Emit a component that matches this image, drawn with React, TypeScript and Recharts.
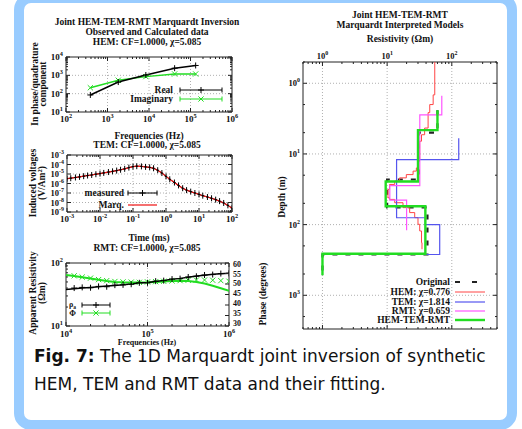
import React from 'react';
import { ComposedChart, Line, XAxis, YAxis, ReferenceLine, ReferenceArea } from 'recharts';

const W = 522;
const H = 429;
const SERIF = '"Liberation Serif", "Times New Roman", serif';
const INK = '#222';
const GRID = '#b0b0b0';
const GREEN = '#22dd22';
const AX = 24; // room given to each axis inside the margins

// ---- HEM: observed / calculated ----
const hemFreq = [386, 1817, 8390, 41460, 133200];
const hemReal = [85, 430, 1040, 2450, 3450];
const hemImag = [210, 540, 850, 1190, 1190];

// ---- TEM transient ----
const temTime = [0.001, 0.0013, 0.0018, 0.0024, 0.0032, 0.0042, 0.0056, 0.0075, 0.01, 0.013, 0.018, 0.024, 0.032, 0.042, 0.056, 0.075,
  0.1, 0.13, 0.18, 0.24, 0.32, 0.42, 0.56, 0.75, 1.0, 1.3, 1.8, 2.4, 3.2, 4.2, 5.6, 7.5, 10, 13, 18, 24, 32, 42, 56, 75, 100];
const temMeasured = [3.2e-6, 3.6e-6, 4.3e-6, 5.0e-6, 5.9e-6, 6.9e-6, 7.9e-6, 9.5e-6, 1.1e-5, 1.3e-5, 1.6e-5, 1.9e-5, 2.3e-5, 2.8e-5, 3.5e-5, 4.7e-5,
  6.0e-5, 6.6e-5, 6.3e-5, 5.6e-5, 5.0e-5, 4.0e-5, 2.5e-5, 1.26e-5, 5.6e-6, 2.8e-6, 1.26e-6, 6.3e-7, 3.2e-7, 2.0e-7, 1.4e-7, 1.0e-7, 7.1e-8, 5.2e-8,
  3.8e-8, 2.8e-8, 2.0e-8, 1.4e-8, 8.9e-9, 5.0e-9, 2.5e-9];
const temMarq = [3.2e-6, 3.6e-6, 4.3e-6, 5.0e-6, 5.9e-6, 6.9e-6, 7.9e-6, 9.5e-6, 1.1e-5, 1.3e-5, 1.6e-5, 1.9e-5, 2.3e-5, 2.8e-5, 3.5e-5, 4.7e-5,
  6.0e-5, 6.6e-5, 6.3e-5, 5.6e-5, 5.0e-5, 4.0e-5, 2.5e-5, 1.26e-5, 5.6e-6, 2.8e-6, 1.26e-6, 6.3e-7, 3.2e-7, 2.0e-7, 1.4e-7, 1.0e-7, 7.1e-8, 5.2e-8,
  3.8e-8, 2.8e-8, 2.0e-8, 1.4e-8, 8.9e-9, 5.0e-9, 2.5e-9];

// ---- RMT ----
const rmtFreq = [1e4, 1.26e4, 1.58e4, 2e4, 2.51e4, 3.16e4, 3.98e4, 5.01e4, 6.31e4, 7.94e4, 1e5, 1.26e5, 1.58e5, 2e5, 2.51e5, 3.16e5, 3.98e5, 5.01e5, 6.31e5, 7.94e5, 1e6];
const rmtRhoCalc = [38, 39, 40, 41, 42, 43, 44, 45, 46.5, 48, 49, 51, 53, 55, 57, 59.5, 62, 64, 66, 67.5, 69];
const rmtRhoObs = [null, 40, 41, 40.5, 42.5, 42, 44.5, 45, 46, 48.5, 48.5, 51.5, 52.5, 55.5, 56.5, 60, 61.5, 64.5, 65.5, 68, 68.5];
const rmtPhaseCalc = [54.3, 53.8, 53.2, 52.6, 52.0, 51.4, 51.0, 50.8, 50.7, 50.7, 50.8, 51.0, 51.2, 51.4, 51.5, 51.4, 51.0, 50.2, 49.2, 48.0, 46.8];
const rmtPhaseObs = [null, 53.9, 53.3, 52.8, 52.1, 51.6, 51.2, 51.0, 50.9, 50.8, 51.0, 51.1, 51.3, 51.5, 51.6, 51.8, 51.9, 51.9, 51.8, 51.6, 51.3];

// ---- interpreted models: layer resistivity and depths [start, interfaces..., end] ----
const origRes = [60, 31, 10, 42, 1];
const origDepth = [2.4, 5, 23, 57, 265, 520];
const hemRes = [54.5, 51.5, 45.6, 43, 38, 34, 31.9, 30, 28.3, 25.2, 19.8, 15.6, 13.1, 10.9, 10.3, 10.9, 13.1, 17.6, 22.3, 26.7, 30, 31.9, 34, 34.6];
const hemDepth = [0.5, 1.46, 2.0, 2.6, 4.3, 5.35, 6.6, 12, 15.8, 17.5, 19.6, 21.8, 24.2, 27, 31.7, 41.7, 44, 49, 57.5, 67.6, 79.7, 99, 123, 180, 223];
const temRes = [128, 14, 39, 65, 40];
const temDepth = [6, 12, 80, 100, 265, 265];
const rmtRes = [70, 32, 11, 20];
const rmtDepth = [1.5, 2.8, 28, 45, 120];
const jointRes = [60, 30, 9.5, 39, 1];
const jointDepth = [2.4, 4.6, 24.5, 55, 258, 520];

// tick marks
const HEM_X_MAJOR = [1e2, 1e3, 1e4, 1e5, 1e6];
const HEM_Y_MAJOR = [1e1, 1e2, 1e3, 1e4];
const TEM_X_MAJOR = [1e-3, 1e-2, 1e-1, 1e0, 1e1, 1e2];
const TEM_Y_MAJOR = [1e-9, 1e-8, 1e-7, 1e-6, 1e-5, 1e-4, 1e-3];
const RMT_X_MAJOR = [1e4, 1e5, 1e6];
const RMT_Y_MAJOR = [10, 100];
const PHASE_TICKS = [30, 35, 40, 45, 50, 55, 60];
const MOD_X_MAJOR = [1, 10, 100];
const MOD_Y_MAJOR = [1, 10, 100, 1000];

type Box = { l: number; r: number; t: number; b: number };
const HEM_BOX: Box = { l: 66, r: 232, t: 57, b: 112 };
const TEM_BOX: Box = { l: 67, r: 232, t: 155, b: 212 };
const RMT_BOX: Box = { l: 66, r: 229, t: 263, b: 326 };
const MOD_BOX: Box = { l: 303, r: 497, t: 62, b: 329 };

// margins leave AX px for the bottom x axis and left y axis (and right / top where used)
const margin = (b: Box, rightAxis = false, topAxis = false) => ({
  left: b.l - AX,
  right: W - b.r - (rightAxis ? AX : 0),
  top: b.t - (topAxis ? AX : 0),
  bottom: H - b.b - (topAxis ? 0 : AX),
});

// minor log ticks between lo and hi
function logTicks(lo: number, hi: number, mult = [1, 2, 3, 4, 5, 6, 7, 8, 9]) {
  const out: number[] = [];
  for (let e = Math.floor(Math.log10(lo)); e <= Math.ceil(Math.log10(hi)); e++) {
    for (const m of mult) {
      const v = +(m * Math.pow(10, e)).toPrecision(6);
      if (v >= lo * 0.9999 && v <= hi * 1.0001) out.push(v);
    }
  }
  return out;
}

const isMajor = (v: number, majors: number[]) => majors.some((m) => Math.abs(v - m) <= Math.abs(m) * 1e-6);

function Pow({ x, y, v, anchor, size = 9 }: any) {
  const e = Math.round(Math.log10(v));
  return (
    <text x={x} y={y} textAnchor={anchor} fontFamily={SERIF} fontWeight="bold" fontSize={size} fill="#111">
      10<tspan dy={-size * 0.45} fontSize={size * 0.7}>{e}</tspan>
    </text>
  );
}

const bottomTick = (box: Box, majors: number[], dy = 10, size = 9) => (p: any) => {
  const x = p.x;
  const major = isMajor(p.payload.value, majors);
  const l = major ? 4 : 2;
  return (
    <g>
      <line x1={x} x2={x} y1={box.b} y2={box.b - l} stroke={INK} />
      <line x1={x} x2={x} y1={box.t} y2={box.t + l} stroke={INK} />
      {major && <Pow x={x} y={box.b + dy} v={p.payload.value} anchor="middle" size={size} />}
    </g>
  );
};

const topTick = (box: Box, majors: number[]) => (p: any) => {
  const x = p.x;
  const major = isMajor(p.payload.value, majors);
  const l = major ? 4 : 2;
  return (
    <g>
      <line x1={x} x2={x} y1={box.b} y2={box.b - l} stroke={INK} />
      <line x1={x} x2={x} y1={box.t} y2={box.t + l} stroke={INK} />
      {major && <Pow x={x} y={box.t - 3} v={p.payload.value} anchor="middle" size={8.5} />}
    </g>
  );
};

const leftTick = (box: Box, majors: number[], mirror = true, size = 9) => (p: any) => {
  const y = p.y;
  const major = isMajor(p.payload.value, majors);
  const l = major ? 4 : 2;
  return (
    <g>
      <line x1={box.l} x2={box.l + l} y1={y} y2={y} stroke={INK} />
      {mirror && <line x1={box.r} x2={box.r - l} y1={y} y2={y} stroke={INK} />}
      {major && <Pow x={box.l - 3} y={y + 3} v={p.payload.value} anchor="end" size={size} />}
    </g>
  );
};

// right-hand phase axis; labels are packed slightly tighter than the ticks, as in the source figure
const phaseTick = (box: Box) => (p: any) => {
  const cy = box.t + 1 + (p.y - box.t) * 0.94;
  return (
    <g>
      <line x1={box.r} x2={box.r - 4} y1={p.y} y2={p.y} stroke={INK} />
      <text x={box.r + 4} y={cy + 2.7} fontFamily={SERIF} fontWeight="bold" fontSize={8} fill="#111">
        {p.payload.value}
      </text>
    </g>
  );
};

// point markers
const plusDot = (color: string, sx = 3, sy = 3) => (p: any) =>
  p.cx == null || p.cy == null ? <g key={p.index} /> : (
    <path key={p.index} d={`M${p.cx - sx},${p.cy}H${p.cx + sx}M${p.cx},${p.cy - sy}V${p.cy + sy}`} stroke={color} strokeWidth={1} fill="none" />
  );
const crossDot = (color: string, s = 2.6) => (p: any) =>
  p.cx == null || p.cy == null ? <g key={p.index} /> : (
    <path key={p.index} d={`M${p.cx - s},${p.cy - s}L${p.cx + s},${p.cy + s}M${p.cx - s},${p.cy + s}L${p.cx + s},${p.cy - s}`} stroke={color} strokeWidth={1} fill="none" />
  );

function staircase(res: number[], depth: number[]) {
  const pts: { r: number; d: number }[] = [];
  res.forEach((r, i) => {
    pts.push({ r, d: depth[i] });
    pts.push({ r, d: depth[i + 1] });
  });
  return pts;
}

const hemData = hemFreq.map((f, i) => ({ f, real: hemReal[i], imag: hemImag[i] }));
const temData = temTime.map((t, i) => ({ t, meas: temMeasured[i], marq: temMarq[i] }));
const rmtData = rmtFreq.map((f, i) => ({ f, rho: rmtRhoCalc[i], rhoObs: rmtRhoObs[i], ph: rmtPhaseCalc[i], phObs: rmtPhaseObs[i] }));
const origPts = staircase(origRes, origDepth);
const hemPts = staircase(hemRes, hemDepth);
const temPts = staircase(temRes, temDepth);
const rmtPts = staircase(rmtRes, rmtDepth);
const jointPts = staircase(jointRes, jointDepth);

const layer: React.CSSProperties = { position: 'absolute', left: 0, top: 0 };
const grid = { stroke: GRID, strokeDasharray: '1 2', strokeWidth: 1 };
const noAxis = { axisLine: false, tickLine: false, interval: 0 as const, allowDataOverflow: true };

function Txt({ x, y, children, anchor = 'middle', size = 9.5, rot = false }: any) {
  return (
    <text x={x} y={y} textAnchor={anchor} fontFamily={SERIF} fontWeight="bold" fontSize={size} fill="#111"
      transform={rot ? `rotate(-90 ${x} ${y})` : undefined}>{children}</text>
  );
}

function ErrSample({ x1, x2, y, color, mark }: any) {
  const c = (x1 + x2) / 2;
  return (
    <g stroke={color} strokeWidth={1} fill="none">
      <path d={`M${x1},${y}H${x2}M${x1},${y - 2.5}V${y + 2.5}M${x2},${y - 2.5}V${y + 2.5}`} />
      {mark === 'plus'
        ? <path d={`M${c - 3},${y}H${c + 3}M${c},${y - 3}V${y + 3}`} />
        : <path d={`M${c - 2.6},${y - 2.6}L${c + 2.6},${y + 2.6}M${c - 2.6},${y + 2.6}L${c + 2.6},${y - 2.6}`} />}
    </g>
  );
}

export default function App() {
  return (
    <div style={{ position: 'relative', width: W, height: H, background: '#fff', overflow: 'hidden' }}>
      <style>{'body{margin:0}'}</style>
      <svg width={W} height={H} style={layer}>
        <rect x={19} y={-2} width={493} height={427} rx={12} fill="#fff" stroke="#99ccff" strokeWidth={10} />
      </svg>

      {/* HEM */}
      <div style={layer}>
        <ComposedChart width={W} height={H} margin={margin(HEM_BOX)} data={hemData}>
          <XAxis dataKey="f" type="number" scale="log" domain={[1e2, 1e6]} ticks={logTicks(1e2, 1e6)}
            height={AX} {...noAxis} tick={bottomTick(HEM_BOX, HEM_X_MAJOR)} />
          <YAxis type="number" scale="log" domain={[10, 1e4]} ticks={logTicks(10, 1e4)}
            width={AX} {...noAxis} tick={leftTick(HEM_BOX, HEM_Y_MAJOR)} />
          {[1e3, 1e4, 1e5].map((v) => <ReferenceLine key={v} x={v} {...grid} />)}
          {[1e2, 1e3].map((v) => <ReferenceLine key={v} y={v} {...grid} />)}
          <ReferenceArea x1={1e2} x2={1e6} y1={10} y2={1e4} fill="none" stroke={INK} strokeWidth={1} />
          <Line dataKey="imag" stroke={GREEN} strokeWidth={1.5} dot={crossDot(GREEN)} isAnimationActive={false} />
          <Line dataKey="real" stroke="#000" strokeWidth={1.5} dot={plusDot('#000')} isAnimationActive={false} />
        </ComposedChart>
      </div>

      {/* TEM */}
      <div style={layer}>
        <ComposedChart width={W} height={H} margin={margin(TEM_BOX)} data={temData}>
          <XAxis dataKey="t" type="number" scale="log" domain={[1e-3, 1e2]} ticks={logTicks(1e-3, 1e2)}
            height={AX} {...noAxis} tick={bottomTick(TEM_BOX, TEM_X_MAJOR)} />
          <YAxis type="number" scale="log" domain={[1e-9, 1e-3]} ticks={TEM_Y_MAJOR}
            width={AX} {...noAxis} tick={leftTick(TEM_BOX, TEM_Y_MAJOR, true, 8.5)} />
          {TEM_X_MAJOR.slice(1, -1).map((v) => <ReferenceLine key={v} x={v} {...grid} />)}
          {TEM_Y_MAJOR.slice(1, -1).map((v) => <ReferenceLine key={v} y={v} {...grid} />)}
          <ReferenceArea x1={1e-3} x2={1e2} y1={1e-9} y2={1e-3} fill="none" stroke={INK} strokeWidth={1} />
          <Line dataKey="meas" stroke="#000" strokeWidth={1} dot={plusDot('#000', 1.2, 3)} isAnimationActive={false} />
          <Line dataKey="marq" stroke="#ee1111" strokeWidth={1.2} dot={false} isAnimationActive={false} />
        </ComposedChart>
      </div>

      {/* RMT */}
      <div style={layer}>
        <ComposedChart width={W} height={H} margin={margin(RMT_BOX, true)} data={rmtData}>
          <XAxis dataKey="f" type="number" scale="log" domain={[1e4, 1e6]} ticks={logTicks(1e4, 1e6)}
            height={AX} {...noAxis} tick={bottomTick(RMT_BOX, RMT_X_MAJOR, 11, 9)} />
          <YAxis type="number" scale="log" domain={[10, 100]} ticks={logTicks(10, 100)}
            width={AX} {...noAxis} tick={leftTick(RMT_BOX, RMT_Y_MAJOR, false)} />
          <YAxis yAxisId="ph" orientation="right" type="number" domain={[30, 60]} ticks={PHASE_TICKS}
            width={AX} {...noAxis} tick={phaseTick(RMT_BOX)} />
          <ReferenceLine x={1e5} {...grid} />
          <ReferenceArea x1={1e4} x2={1e6} y1={10} y2={100} fill="none" stroke={INK} strokeWidth={1} />
          <Line dataKey="ph" yAxisId="ph" stroke={GREEN} strokeWidth={2} dot={false} isAnimationActive={false} />
          <Line dataKey="phObs" yAxisId="ph" stroke="none" dot={crossDot(GREEN)} isAnimationActive={false} />
          <Line dataKey="rho" stroke="#000" strokeWidth={1.5} dot={false} isAnimationActive={false} />
          <Line dataKey="rhoObs" stroke="none" dot={plusDot('#000')} isAnimationActive={false} />
        </ComposedChart>
      </div>

      {/* interpreted models */}
      <div style={layer}>
        <ComposedChart width={W} height={H} margin={margin(MOD_BOX, false, true)}>
          <XAxis dataKey="r" orientation="top" type="number" scale="log" domain={[0.5, 500]} ticks={logTicks(0.5, 500)}
            height={AX} {...noAxis} tick={topTick(MOD_BOX, MOD_X_MAJOR)} />
          <YAxis type="number" scale="log" reversed domain={[0.5, 3000]} ticks={logTicks(0.5, 3000, [1, 2, 5])}
            width={AX} {...noAxis} tick={leftTick(MOD_BOX, MOD_Y_MAJOR, true, 8.5)} />
          {MOD_X_MAJOR.map((v) => <ReferenceLine key={v} x={v} {...grid} />)}
          {MOD_Y_MAJOR.map((v) => <ReferenceLine key={v} y={v} {...grid} />)}
          <ReferenceArea x1={0.5} x2={500} y1={0.5} y2={3000} fill="none" stroke={INK} strokeWidth={1} />
          <Line data={origPts} dataKey="d" stroke="#222" strokeWidth={2.2} strokeDasharray="5 8" dot={false} isAnimationActive={false} />
          <Line data={hemPts} dataKey="d" stroke="#ff4444" strokeWidth={1} dot={false} isAnimationActive={false} />
          <Line data={temPts} dataKey="d" stroke="#5555ee" strokeWidth={1.2} dot={false} isAnimationActive={false} />
          <Line data={rmtPts} dataKey="d" stroke="#ff55ff" strokeWidth={1.2} dot={false} isAnimationActive={false} />
          <Line data={jointPts} dataKey="d" stroke={GREEN} strokeWidth={2.4} dot={false} isAnimationActive={false} />
        </ComposedChart>
      </div>

      {/* titles, axis labels, legends */}
      <svg width={W} height={H} style={{ ...layer, pointerEvents: 'none' }}>
        <Txt x={147} y={25}>Joint HEM-TEM-RMT Marquardt Inversion</Txt>
        <Txt x={147} y={35}>Observed and Calculated data</Txt>
        <Txt x={147} y={45}>HEM: CF=1.0000, χ=5.085</Txt>
        <Txt x={38} y={84} rot>In phase/quadrature</Txt>
        <Txt x={46} y={84} rot>component</Txt>
        <Txt x={149} y={139}>Frequencies (Hz)</Txt>
        <Txt x={173} y={93} anchor="end">Real</Txt>
        <ErrSample x1={180} x2={222} y={90} color="#000" mark="plus" />
        <Txt x={173} y={102} anchor="end">Imaginary</Txt>
        <ErrSample x1={180} x2={222} y={99} color={GREEN} mark="cross" />

        <Txt x={147} y={148}>TEM: CF=1.0000, χ=5.085</Txt>
        <Txt x={36} y={183} rot>Induced voltages</Txt>
        <Txt x={45} y={183} rot>(V/Am<tspan dy={-3} fontSize={6.5}>2</tspan><tspan dy={3}>)</tspan></Txt>
        <Txt x={149} y={241}>Time (ms)</Txt>
        <Txt x={124} y={196} anchor="end">measured</Txt>
        <ErrSample x1={128} x2={157} y={193} color="#000" mark="plus" />
        <Txt x={124} y={208} anchor="end">Marq.</Txt>
        <line x1={128} x2={157} y1={205} y2={205} stroke="#ee1111" strokeWidth={1.2} />

        <Txt x={147} y={251}>RMT: CF=1.0000, χ=5.085</Txt>
        <Txt x={36} y={293} rot>Apparent Resistivity</Txt>
        <Txt x={45} y={293} rot>(Ωm)</Txt>
        <Txt x={266} y={294} rot>Phase (degrees)</Txt>
        <Txt x={147} y={345} size={8}>Frequencies (Hz)</Txt>
        <Txt x={76} y={307} anchor="end" size={8}>ρ<tspan dy={2} fontSize={5.5}>a</tspan></Txt>
        <ErrSample x1={82} x2={110} y={305} color="#000" mark="plus" />
        <Txt x={76} y={316} anchor="end" size={8}>Φ</Txt>
        <ErrSample x1={82} x2={110} y={313} color={GREEN} mark="cross" />

        <Txt x={400} y={18}>Joint HEM-TEM-RMT</Txt>
        <Txt x={400} y={28}>Marquardt Interpreted Models</Txt>
        <Txt x={400} y={42}>Resistivity (Ωm)</Txt>
        <Txt x={285} y={197} rot>Depth (m)</Txt>
        <Txt x={450} y={285} anchor="end">Original</Txt>
        <line x1={455} x2={485} y1={282} y2={282} stroke="#222" strokeWidth={2} strokeDasharray="5 12" />
        <Txt x={450} y={295} anchor="end">HEM: χ=0.776</Txt>
        <line x1={455} x2={485} y1={292} y2={292} stroke="#ff4444" strokeWidth={1} />
        <Txt x={450} y={305} anchor="end">TEM: χ=1.814</Txt>
        <line x1={455} x2={485} y1={302} y2={302} stroke="#5555ee" strokeWidth={1.2} />
        <Txt x={450} y={314} anchor="end">RMT: χ=0.659</Txt>
        <line x1={455} x2={485} y1={311} y2={311} stroke="#ff55ff" strokeWidth={1.2} />
        <Txt x={450} y={323} anchor="end">HEM-TEM-RMT</Txt>
        <line x1={455} x2={485} y1={320} y2={320} stroke={GREEN} strokeWidth={2.4} />

        <text x={34} y={362} fontFamily='"DejaVu Sans", Verdana, sans-serif' fontSize={17} fill="#111">
          <tspan fontWeight="bold">Fig. 7:</tspan> The 1D Marquardt joint inversion of synthetic
        </text>
        <text x={34} y={390} fontFamily='"DejaVu Sans", Verdana, sans-serif' fontSize={17} fill="#111">
          HEM, TEM and RMT data and their fitting.
        </text>
      </svg>
    </div>
  );
}
